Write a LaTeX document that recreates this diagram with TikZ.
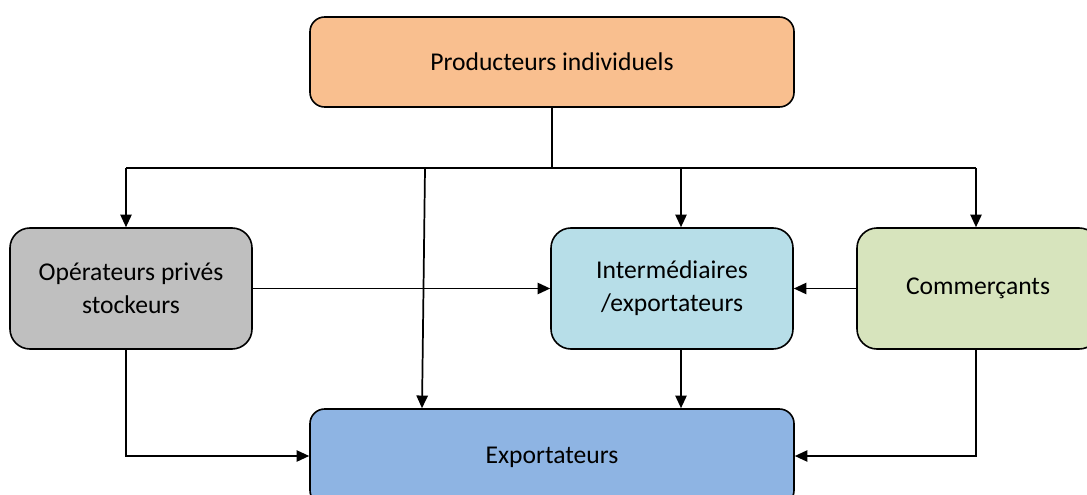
\documentclass[tikz,border=0pt]{standalone}
\usepackage{fontspec}
\setmainfont{Carlito}
\usetikzlibrary{arrows.meta}
\definecolor{peach}{HTML}{F9BF8F}
\definecolor{grayb}{HTML}{BFBFBF}
\definecolor{lblue}{HTML}{B7DEE8}
\definecolor{lgreen}{HTML}{D7E4BD}
\definecolor{mblue}{HTML}{8EB4E3}
\tikzset{
  box/.style={draw=black, line width=1.2pt, align=center, inner sep=2pt,
    font=\fontsize{19.2}{24.5}\selectfont, text=black},
  bigbox/.style={box, rounded corners=11pt, minimum width=363pt},
  midbox/.style={box, rounded corners=15pt, minimum width=181.5pt, minimum height=90.75pt},
  conn/.style={line width=1.3pt, draw=black},
  arr/.style={conn, -{Triangle[length=9.5pt,width=8.5pt]}}
}
\begin{document}
\begin{tikzpicture}[x=0.75pt,y=-0.75pt]
\useasboundingbox (0,0) rectangle (1087,495);
\clip (0,0) rectangle (1087,495);
\node[bigbox, fill=peach, minimum height=67.5pt] (top) at (552,62) {Producteurs individuels};
\node[midbox, fill=grayb] (oper) at (131,288.5) {Opérateurs privés\\stockeurs};
\node[midbox, fill=lblue] (inter) at (672,288.5) {Intermédiaires\\/exportateurs};
\node[midbox, fill=lgreen] (comm) at (978,288.5) {Commerçants};
\node[bigbox, fill=mblue, minimum height=72pt] (exp) at (552,457) {Exportateurs};
\coordinate (j) at (552,168);
\coordinate (jl) at (126,168);
\coordinate (jr) at (976,168);
\coordinate (jm) at (425,168);
\coordinate (jmend) at (422,409);
\coordinate (ji) at (681,168);
\coordinate (ib) at (681,349);
\coordinate (ob) at (126,349);
\coordinate (cb) at (976,349);
\coordinate (hy) at (0,456);
\draw[conn] (top.south -| j) -- (j);
\draw[conn] (jl) -- (jr);
\draw[arr] (jl) -- (jl |- oper.north);
\draw[arr] (jm) -- (jmend |- exp.north);
\draw[arr] (ji) -- (ji |- inter.north);
\draw[arr] (jr) -- (jr |- comm.north);
\draw[arr] (oper.east) -- (inter.west);
\draw[arr] (comm.west) -- (inter.east);
\draw[arr] (ib |- inter.south) -- (ib |- exp.north);
\draw[arr] (ob |- oper.south) |- (exp.west |- hy);
\draw[arr] (cb |- comm.south) |- (exp.east |- hy);
\end{tikzpicture}
\end{document}
